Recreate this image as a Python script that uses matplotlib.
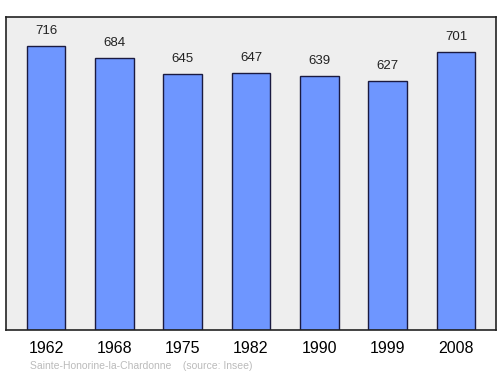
import matplotlib.pyplot as plt

plt.rcParams['font.family'] = ['Liberation Sans', 'DejaVu Sans']

years = ["1962", "1968", "1975", "1982", "1990", "1999", "2008"]
population = [716, 684, 645, 647, 639, 627, 701]

fig = plt.figure(figsize=(5, 3.74), dpi=100)
ax = fig.add_axes([0.012, 0.118, 0.98, 0.837])
ax.set_facecolor("#eeeeee")

x = range(len(years))
ax.bar(x, population, width=0.57, color="#6e96ff", edgecolor="#1a1a40", linewidth=1)

# labels sit ~15px above each bar top
for i, v in enumerate(population):
    ax.text(i, v + 38, str(v), ha="center", va="center", fontsize=9.5, color="#222222")

ax.set_xlim(-0.585, len(years) - 1 + 0.585)
ax.set_ylim(0, 789)
ax.set_xticks(list(x))
ax.set_xticklabels(years, fontsize=11.5)
ax.tick_params(axis="x", length=0, pad=8)
ax.set_yticks([])
for s in ax.spines.values():
    s.set_color("#222222")
    s.set_linewidth(1.2)

fig.text(0.06, 0.014, "Sainte-Honorine-la-Chardonne    (source: Insee)",
         fontsize=7.5, color="#bbbbbb")

fig.savefig("out.png")
